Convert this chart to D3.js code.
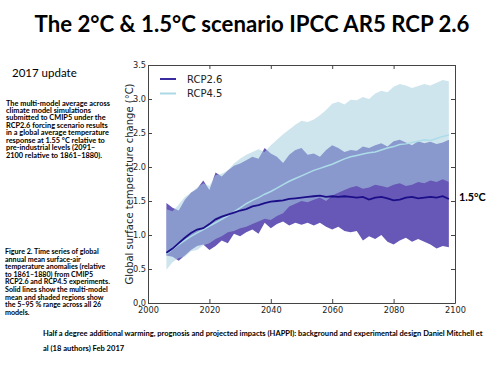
<!DOCTYPE html>
<html>
  <head>
    <style>
      body,
      html {
        margin: 0;
        background: #fff;
      }
      text {
        font-family: 'DejaVu Sans', sans-serif;
      }
      .cal {
        font-family: Lato, 'Open Sans', sans-serif;
      }
    </style>
  </head>
  <body>
    <svg id="svg" width="500" height="375"></svg>
    <script src="https://cdn.jsdelivr.net/npm/d3@7"></script>
    <script>
      // years sampled every 2 years
      const years = [
        2006, 2008, 2010, 2012, 2014, 2016, 2018, 2020, 2022, 2024, 2026, 2028,
        2030, 2032, 2034, 2036, 2038, 2040, 2042, 2044, 2046, 2048, 2050, 2052,
        2054, 2056, 2058, 2060, 2062, 2064, 2066, 2068, 2070, 2072, 2074, 2076,
        2078, 2080, 2082, 2084, 2086, 2088, 2090, 2092, 2094, 2096, 2098
      ];
      const rcp26Mean = [
        0.74, 0.8, 0.88, 0.96, 1.03, 1.08, 1.1, 1.16, 1.23, 1.27, 1.3, 1.33,
        1.36, 1.38, 1.42, 1.44, 1.47, 1.49, 1.5, 1.51, 1.53, 1.54, 1.55, 1.56,
        1.57, 1.58, 1.56, 1.57, 1.56, 1.57, 1.56, 1.55, 1.56, 1.52, 1.55, 1.56,
        1.54, 1.51, 1.52, 1.55, 1.56, 1.54, 1.55, 1.56, 1.55, 1.57, 1.53
      ];
      const rcp26Low = [
        0.7, 0.68, 0.62, 0.7, 0.78, 0.84, 0.86, 0.78, 0.84, 0.92, 0.88, 1.02,
        0.98, 1.04, 1.08, 1.02, 1.18, 1.1, 1.16, 1.2, 1.14, 1.18, 1.15, 1.18,
        1.14, 1.18, 1.12, 1.08, 1.12, 1.06, 1.04, 1.06, 0.92, 0.98, 0.94, 1.0,
        0.9, 0.86, 0.92, 0.96, 0.9, 0.94, 0.9, 0.86, 0.8, 0.84, 0.82
      ];
      const rcp26High = [
        1.47, 1.4, 1.36, 1.52, 1.62, 1.68, 1.8, 1.66, 1.92, 1.86, 1.95, 2.02,
        2.05, 2.1, 2.15, 2.12, 2.28, 2.2, 2.15, 2.06, 2.18, 2.25, 2.28, 2.18,
        2.2, 2.15, 2.25, 2.32, 2.28, 2.22, 2.25, 2.24, 2.3, 2.28, 2.32, 2.35,
        2.3, 2.38, 2.4, 2.36, 2.32, 2.38, 2.35, 2.37, 2.34, 2.36, 2.4
      ];
      const rcp45Mean = [
        0.72, 0.79, 0.86, 0.92, 0.98, 1.03, 1.08, 1.13, 1.18, 1.23, 1.28, 1.34,
        1.4, 1.46, 1.51, 1.55, 1.6, 1.64, 1.69, 1.74, 1.79, 1.83, 1.87, 1.91,
        1.95, 1.98, 2.01, 2.04, 2.08, 2.12, 2.15, 2.17, 2.19, 2.21, 2.22, 2.25,
        2.28, 2.3, 2.33, 2.34, 2.36, 2.38, 2.4, 2.39, 2.42, 2.45, 2.47
      ];
      const rcp45Low = [
        0.49, 0.6, 0.66, 0.68, 0.76, 0.78, 0.85, 0.88, 0.94, 0.98, 1.04, 1.06,
        1.1, 1.12, 1.16, 1.2, 1.24, 1.22, 1.28, 1.32, 1.42, 1.46, 1.5, 1.48,
        1.52, 1.55, 1.5, 1.58, 1.62, 1.66, 1.7, 1.72, 1.68, 1.7, 1.74, 1.72,
        1.7, 1.74, 1.76, 1.72, 1.74, 1.78, 1.76, 1.8, 1.78, 1.82, 1.78
      ];
      const rcp45High = [
        1.38, 1.35, 1.45, 1.56, 1.62, 1.7, 1.76, 1.72, 1.88, 1.9, 1.95, 2.05,
        2.12, 2.18, 2.22, 2.26, 2.22, 2.32, 2.4, 2.48, 2.55, 2.62, 2.68, 2.66,
        2.7, 2.76, 2.84, 2.93, 2.96, 2.92, 2.99, 2.98, 3.03, 3.0, 3.08, 3.12,
        3.1, 3.18, 3.22, 3.2, 3.16, 3.19, 3.22, 3.2, 3.24, 3.28, 3.26
      ];
      const xTicks = [2000, 2020, 2040, 2060, 2080, 2100];
      const yTicks = [0, 0.5, 1, 1.5, 2, 2.5, 3, 3.5];
      const seriesNames = ['RCP2.6', 'RCP4.5'];

      const title = 'The 2°C & 1.5°C scenario IPCC AR5 RCP 2.6';
      const para1 = [
        'The multi-model average across',
        'climate model simulations',
        'submitted to CMIP5 under the',
        'RCP2.6 forcing scenario results',
        'in a global average temperature',
        'response at 1.55  °C relative to',
        'pre-industrial levels (2091–',
        '2100  relative to 1861–1880).'
      ];
      const para2 = [
        'Figure 2. Time series of global',
        'annual mean surface-air',
        'temperature anomalies (relative',
        'to 1861–1880)  from CMIP5',
        'RCP2.6 and RCP4.5  experiments.',
        'Solid lines show the multi-model',
        'mean and shaded regions show',
        'the 5–95  % range across all 26',
        'models.'
      ];
      const footnote = [
        'Half a degree additional warming, prognosis and projected impacts (HAPPI): background and experimental design Daniel Mitchell et',
        'al (18 authors) Feb 2017'
      ];

      const svg = d3.select('#svg');
      const pLeft = 148,
        pRight = 455,
        pTop = 65,
        pBottom = 303;

      const x = d3.scaleLinear().domain([2000, 2100]).range([pLeft, pRight]);
      const y = d3.scaleLinear().domain([0, 3.5]).range([pBottom, pTop]);

      const rows = years.map((yr, i) => ({
        yr,
        m26: rcp26Mean[i],
        l26: rcp26Low[i],
        h26: rcp26High[i],
        m45: rcp45Mean[i],
        l45: rcp45Low[i],
        h45: rcp45High[i]
      }));

      const band = (lo, hi) =>
        d3
          .area()
          .x((d) => x(d.yr))
          .y0((d) => y(d[lo]))
          .y1((d) => y(d[hi]));
      const line = (k) =>
        d3
          .line()
          .x((d) => x(d.yr))
          .y((d) => y(d[k]));

      const plot = svg.append('g');
      plot
        .append('path')
        .attr('d', band('l26', 'h26')(rows))
        .attr('fill', '#6757b6');
      plot
        .append('path')
        .attr('d', band('l45', 'h45')(rows))
        .attr('fill', '#a8d0e0')
        .attr('fill-opacity', 0.55);
      plot
        .append('path')
        .attr('d', line('m45')(rows))
        .attr('fill', 'none')
        .attr('stroke', '#acdce8')
        .attr('stroke-width', 1.5);
      plot
        .append('path')
        .attr('d', line('m26')(rows))
        .attr('fill', 'none')
        .attr('stroke', '#1b0e88')
        .attr('stroke-width', 1.8);

      // axes, ticks pointing inward on all four sides
      const axes = [
        d3.axisBottom(x).tickValues(xTicks).tickFormat(d3.format('d')).tickPadding(4),
        d3.axisTop(x).tickValues(xTicks).tickFormat(''),
        d3.axisLeft(y).tickValues(yTicks).tickFormat(d3.format('.1f')).tickPadding(2),
        d3.axisRight(y).tickValues(yTicks).tickFormat('')
      ];
      const pos = [
        [0, pBottom],
        [0, pTop],
        [pLeft, 0],
        [pRight, 0]
      ];
      axes.forEach((ax, i) => {
        const g = svg
          .append('g')
          .attr('transform', `translate(${pos[i][0]},${pos[i][1]})`)
          .call(ax.tickSizeInner(-4).tickSizeOuter(0));
        g.select('.domain').attr('stroke', '#444');
        g.selectAll('.tick line').attr('stroke', '#444');
        g.selectAll('text')
          .attr('font-size', 8.2)
          .attr('font-family', 'DejaVu Sans')
          .attr('fill', '#222');
      });

      svg
        .append('text')
        .attr('transform', `translate(133,${(pTop + pBottom) / 2}) rotate(-90)`)
        .attr('text-anchor', 'middle')
        .attr('font-size', 10)
        .attr('fill', '#222')
        .text('Global surface temperature change (°C)');

      // legend
      const legColors = ['#3b2ba0', '#add8e6'];
      const leg = svg
        .append('g')
        .selectAll('g')
        .data(seriesNames)
        .join('g')
        .attr('transform', (d, i) => `translate(160,${79 + i * 14.5})`);
      leg
        .append('line')
        .attr('x2', 16)
        .attr('stroke', (d, i) => legColors[i])
        .attr('stroke-width', 2);
      leg
        .append('text')
        .attr('x', 27)
        .attr('dy', '0.35em')
        .attr('font-size', 10)
        .attr('fill', '#222')
        .text((d) => d);

      svg
        .append('text')
        .attr('class', 'cal')
        .attr('x', 459)
        .attr('y', y(1.56))
        .attr('dy', '0.35em')
        .attr('font-size', 10.8)
        .attr('font-weight', 'bold')
        .text('1.5°C');

      // title, fitted to width
      const t = svg
        .append('text')
        .attr('class', 'cal')
        .attr('x', 252)
        .attr('y', 32)
        .attr('text-anchor', 'middle')
        .attr('font-weight', 'bold')
        .attr('font-size', 22)
        .text(title);
      const tw = t.node().getComputedTextLength();
      t.attr('font-size', (22 * 435) / tw);

      svg
        .append('text')
        .attr('class', 'cal')
        .attr('x', 12)
        .attr('y', 77)
        .attr('font-size', 11.5)
        .text('2017 update');

      const addLines = (lines, x0, y0, dy, size, width) => {
        const g = svg
          .append('g')
          .attr('font-weight', 'bold')
          .attr('font-size', size);
        const ts = g
          .selectAll('text')
          .data(lines)
          .join('text')
          .attr('class', 'cal')
          .attr('x', x0)
          .attr('y', (d, i) => y0 + i * dy)
          .text((d) => d);
        const w = d3.max(ts.nodes(), (n) => n.getComputedTextLength());
        g.attr('font-size', (size * width) / w);
      };
      addLines(para1, 6, 105.5, 7.45, 6.5, 104);
      addLines(para2, 5, 254, 7.6, 6.5, 105);
      addLines(footnote, 43, 336, 14.5, 7, 440);
    </script>
  </body>
</html>
